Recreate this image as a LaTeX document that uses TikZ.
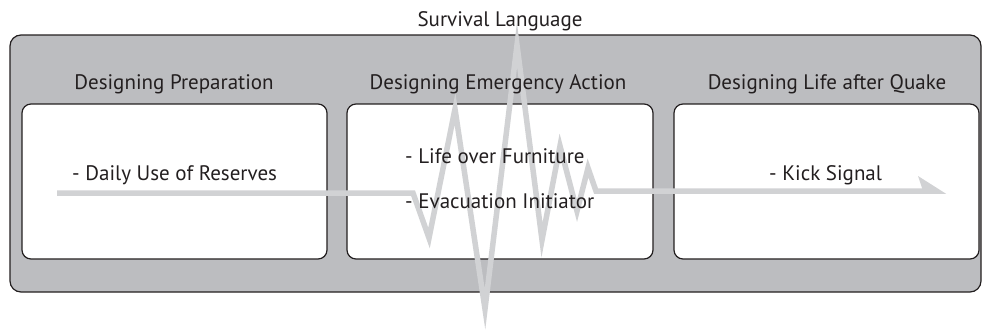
\documentclass[tikz,border=0pt]{standalone}
\usepackage{fontspec}
\setmainfont{PT Sans}
\definecolor{panelgray}{HTML}{BCBDC0}
\definecolor{wavegray}{HTML}{D1D2D4}
\definecolor{inkline}{HTML}{231F20}
\tikzset{
  panel/.style={draw=inkline, line width=1.2pt, rounded corners=11pt, fill=panelgray},
  stagebox/.style={draw=inkline, line width=1.2pt, rounded corners=9pt, fill=white},
  stagetitle/.style={font=\fontsize{21}{23}\selectfont, text=inkline, anchor=base, inner sep=0pt},
  itemtext/.style={font=\fontsize{21}{23}\selectfont, text=inkline, anchor=base west, inner sep=0pt},
  wave/.style={draw=wavegray, line width=5.5pt, line join=miter, miter limit=12}
}
\begin{document}
\begin{tikzpicture}[x=1pt,y=-1pt]
\useasboundingbox (0,0) rectangle (982,330);
% panel and the three stages
\node[panel, minimum width=971pt, minimum height=257pt] (panel) at (495.5,163.5) {};
\node[stagebox, minimum width=305pt, minimum height=155pt] (prep) at (174.5,181.5) {};
\node[stagebox, minimum width=306pt, minimum height=155pt] (action) at (500,181.5) {};
\node[stagebox, minimum width=305pt, minimum height=155pt] (after) at (826.5,181.5) {};
% quake wave
\draw[wave] (57,193) -- (413,193) -- (429,238) -- (455,109) -- (485,309) -- (517,45)
  -- (542,240) -- (560,146) -- (577,211) -- (588,168) -- (596,191) -- (926,191);
\fill[wavegray] (918,176) -- (946,193.75) -- (924,193.75) -- cycle;
% texts
\node[stagetitle] (survival) at (500,26) {Survival Language};
\node[stagetitle] (preptitle) at (174,89) {Designing Preparation};
\node[stagetitle] (actiontitle) at (498,89) {Designing Emergency Action};
\node[stagetitle] (aftertitle) at (827,89) {Designing Life after Quake};
\node[itemtext] (reserves) at (72,180) {- Daily Use of Reserves};
\node[itemtext] (furniture) at (405,163) {- Life over Furniture};
\node[itemtext] (evacuation) at (405,208) {- Evacuation Initiator};
\node[itemtext] (kick) at (769,180) {- Kick Signal};
\end{tikzpicture}
\end{document}
